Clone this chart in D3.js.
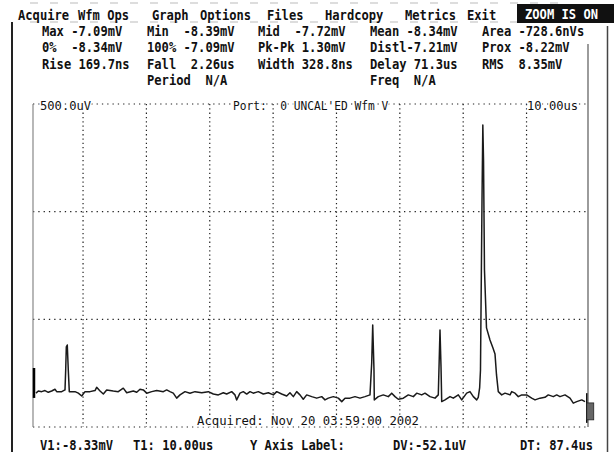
<!DOCTYPE html>
<html>
<head>
<meta charset="utf-8">
<script src="https://cdn.jsdelivr.net/npm/d3@7/dist/d3.min.js"></script>
<style>
html, body { margin: 0; padding: 0; background: #fff; }
svg { display: block; }
text { font-family: "DejaVu Sans Mono", monospace; fill: #111; white-space: pre; }
</style>
</head>
<body>
<svg id="scope" width="614" height="452"></svg>
<script>
// menu bar
const menuItems = ["Acquire", "Wfm Ops", "Graph", "Options", "Files", "Hardcopy", "Metrics", "Exit"]
const zoomFlag = "ZOOM IS ON"

// measurement readouts, one row per line, "" = empty cell
const readoutRows = [
	["Max -7.09mV", "Min  -8.39mV", "Mid  -7.72mV", "Mean -8.34mV", "Area -728.6nVs"],
	["0%  -8.34mV", "100% -7.09mV", "Pk-Pk 1.30mV", "Distl-7.21mV", "Prox -8.22mV"],
	["Rise 169.7ns", "Fall  2.26us", "Width 328.8ns", "Delay 71.3us", "RMS  8.35mV"],
	["", "Period  N/A", "", "Freq  N/A", ""]
]

const voltsPerDiv = "500.0uV"
const portLabel = "Port:  0 UNCAL'ED Wfm V"
const timePerDiv = "10.00us"
const acquiredLabel = "Acquired: Nov 20 03:59:00 2002"
const cursorLabels = ["V1:-8.33mV", "T1: 10.00us", "Y Axis Label:", "DV:-52.1uV", "DT: 87.4us"]

// screen window: time (us) and level (mV)
const timeWindow = [0, 87.6]
const levelWindow = [-8.482, -6.993]
const gridStartUs = 7.9
const usPerDiv = 10

// cursors at the two ends of the window
const cursorTimes = [0, 87.4]

// trace: [time us, level mV]
const trace = [
	[0.47,-8.326],[0.84,-8.316],[1.37,-8.319],[1.89,-8.314],[2.41,-8.322],[2.95,-8.316],[3.47,-8.308],[3.74,-8.319],
	[4.53,-8.319],[5.05,-8.311],[5.16,-8.219],[5.26,-8.112],[5.41,-8.104],[5.57,-8.219],[5.73,-8.319],[6.63,-8.319],
	[7.15,-8.326],[7.69,-8.339],[8.21,-8.319],[9.00,-8.319],[9.79,-8.314],[10.05,-8.299],[10.58,-8.316],[11.10,-8.330],
	[11.63,-8.311],[12.67,-8.316],[13.46,-8.319],[14.25,-8.303],[14.79,-8.324],[15.83,-8.316],[16.37,-8.322],[16.89,-8.308],
	[17.41,-8.311],[17.95,-8.326],[18.74,-8.319],[19.52,-8.314],[20.57,-8.319],[21.10,-8.311],[21.62,-8.319],[22.14,-8.326],
	[22.68,-8.349],[23.20,-8.334],[23.99,-8.319],[24.78,-8.326],[25.57,-8.319],[26.63,-8.324],[27.67,-8.319],[28.46,-8.330],
	[29.25,-8.334],[30.04,-8.324],[30.57,-8.330],[31.36,-8.319],[31.88,-8.334],[32.15,-8.357],[32.67,-8.326],[33.19,-8.319],
	[33.73,-8.330],[34.25,-8.319],[34.77,-8.326],[35.56,-8.319],[36.35,-8.330],[37.14,-8.324],[37.93,-8.334],[38.47,-8.319],
	[39.25,-8.330],[40.04,-8.339],[40.56,-8.324],[41.09,-8.342],[41.62,-8.319],[42.14,-8.334],[42.66,-8.354],[43.20,-8.334],
	[43.99,-8.342],[44.78,-8.349],[45.57,-8.342],[46.09,-8.357],[46.61,-8.349],[47.40,-8.342],[48.19,-8.349],[48.73,-8.365],
	[49.25,-8.349],[50.03,-8.349],[50.82,-8.342],[51.61,-8.349],[52.40,-8.342],[53.19,-8.334],[53.46,-8.187],[53.62,-8.012],
	[53.82,-8.219],[53.87,-8.357],[54.50,-8.342],[55.29,-8.334],[56.08,-8.342],[56.62,-8.326],[57.14,-8.342],[57.66,-8.354],
	[58.45,-8.349],[59.24,-8.334],[60.03,-8.342],[60.56,-8.326],[61.35,-8.334],[61.87,-8.326],[62.66,-8.342],[63.45,-8.349],
	[63.97,-8.334],[64.24,-8.035],[64.40,-8.204],[64.51,-8.365],[65.03,-8.357],[65.82,-8.342],[66.34,-8.349],[67.13,-8.334],
	[67.67,-8.357],[68.45,-8.326],[68.97,-8.319],[69.50,-8.342],[70.03,-8.357],[70.28,-8.345],[70.50,-8.300],[70.63,-8.219],
	[70.87,-7.436],[71.00,-7.090],[71.11,-7.251],[71.26,-7.758],[71.58,-8.025],[72.13,-8.081],[72.60,-8.118],[72.92,-8.145],
	[73.16,-8.242],[73.44,-8.319],[73.98,-8.334],[74.50,-8.326],[75.29,-8.334],[75.56,-8.319],[76.08,-8.326],[76.60,-8.342],
	[77.14,-8.334],[77.92,-8.334],[78.71,-8.349],[79.24,-8.357],[80.02,-8.349],[80.81,-8.345],[81.33,-8.334],[82.12,-8.342],
	[82.66,-8.334],[83.18,-8.342],[83.97,-8.334],[84.76,-8.349],[85.28,-8.372],[85.82,-8.365],[86.61,-8.357],[87.13,-8.365]
]

const svg = d3.select("#scope")

const x = d3.scaleLinear().domain(timeWindow).range([33, 588])
const y = d3.scaleLinear().domain(levelWindow).range([427, 104])

// the screen font is a fixed 7.3px cell, a bit taller than DejaVu at that width
const CELL = 7.3
function fixedText (sel, size, cell) {
	sel.attr("font-size", size || 13.4)
		.attr("textLength", (d) => d.length * (cell || CELL))
		.attr("lengthAdjust", "spacingAndGlyphs")
		.text((d) => d)
}

// scan streaks along the top
svg.selectAll("line.streak")
	.data([3, 22])
	.enter().append("line")
	.attr("class", "streak")
	.attr("x1", 30).attr("x2", 560)
	.attr("y1", (d) => d).attr("y2", (d) => d)
	.attr("stroke", "#bbb").attr("stroke-dasharray", "8,12")

// outer frame
svg.append("line").attr("x1", 12).attr("x2", 12).attr("y1", 22).attr("y2", 452)
	.attr("stroke", "#222").attr("stroke-width", 2)
svg.append("line").attr("x1", 607.5).attr("x2", 607.5).attr("y1", 26).attr("y2", 452)
	.attr("stroke", "#444").attr("stroke-width", 1.5)

// menu bar
const menuX = [18, 78, 152, 200, 267, 325, 405, 467]
svg.selectAll("text.menu")
	.data(menuItems)
	.enter().append("text")
	.attr("class", "menu")
	.attr("x", (d, i) => menuX[i])
	.attr("y", 19.5)
	.attr("font-weight", "bold")
	.call(fixedText)

svg.append("rect").attr("x", 517).attr("y", 4).attr("width", 97).attr("height", 19).attr("fill", "#111")
svg.append("text").datum(zoomFlag)
	.attr("x", 525).attr("y", 19)
	.attr("font-weight", "bold")
	.style("fill", "#fff")
	.call(fixedText)

// readouts
const colX = [42, 147, 258, 370, 482]
readoutRows.forEach(function (row, r) {
	svg.selectAll("text.row" + r)
		.data(row)
		.enter().append("text")
		.attr("class", "row" + r)
		.attr("x", (d, i) => colX[i])
		.attr("y", 36 + r * 16.3)
		.attr("font-weight", "bold")
		.call(fixedText)
})

// plot area
const plot = svg.append("g")
const x0 = x(timeWindow[0]), x1 = x(timeWindow[1])
const yTop = y(levelWindow[1]), yBot = y(levelWindow[0])

// dotted grid (top & bottom edges are dotted too)
const hLevels = d3.range(0, 4).map((k) => levelWindow[1] + k * (levelWindow[0] - levelWindow[1]) / 3)
plot.selectAll("line.hgrid")
	.data(hLevels)
	.enter().append("line")
	.attr("class", "hgrid")
	.attr("x1", x0).attr("x2", x1)
	.attr("y1", (d) => y(d)).attr("y2", (d) => y(d))
	.attr("stroke", "#222").attr("stroke-width", 1.2)
	.attr("stroke-dasharray", "1.3,4")

const vTimes = d3.range(gridStartUs, timeWindow[1], usPerDiv)
plot.selectAll("line.vgrid")
	.data(vTimes)
	.enter().append("line")
	.attr("class", "vgrid")
	.attr("x1", (d) => x(d)).attr("x2", (d) => x(d))
	.attr("y1", yTop).attr("y2", yBot)
	.attr("stroke", "#222").attr("stroke-width", 1.2)
	.attr("stroke-dasharray", "1.3,3")

// solid side edges
plot.append("line").attr("x1", x0).attr("x2", x0).attr("y1", yTop).attr("y2", yBot)
	.attr("stroke", "#888").attr("stroke-width", 1.2)
plot.append("line").attr("x1", x1).attr("x2", x1).attr("y1", 44).attr("y2", yBot)
	.attr("stroke", "#666").attr("stroke-width", 1.3)

// waveform
const line = d3.line()
	.x((d) => x(d[0]))
	.y((d) => y(d[1]))
plot.append("path")
	.datum(trace)
	.attr("d", line)
	.attr("fill", "none")
	.attr("stroke", "#1a1a1a")
	.attr("stroke-width", 1.5)
	.attr("stroke-linejoin", "round")

// cursor markers
plot.append("line")
	.attr("x1", x(cursorTimes[0]) + 1).attr("x2", x(cursorTimes[0]) + 1)
	.attr("y1", y(-8.210)).attr("y2", y(-8.348))
	.attr("stroke", "#000").attr("stroke-width", 2.5)
plot.append("line")
	.attr("x1", x(cursorTimes[1])).attr("x2", x(cursorTimes[1]))
	.attr("y1", y(-8.326)).attr("y2", y(-8.463))
	.attr("stroke", "#111").attr("stroke-width", 1.5)
plot.append("rect")
	.attr("x", x(cursorTimes[1])).attr("y", y(-8.371))
	.attr("width", 7).attr("height", y(-8.449) - y(-8.371))
	.attr("fill", "#666").attr("stroke", "#222").attr("stroke-width", 0.8)

// labels sitting on the grid edges (plain weight, white halo cuts the dots)
function edgeLabel (tx, ty, s, cell) {
	plot.append("text").datum(s)
		.attr("x", tx).attr("y", ty)
		.attr("stroke", "#fff").attr("stroke-width", 3)
		.attr("paint-order", "stroke")
		.call(fixedText, 13, cell)
}
edgeLabel(40, yTop + 5.5, voltsPerDiv)
edgeLabel(233, yTop + 5.5, portLabel, 6.75)
edgeLabel(527, yTop + 5.5, timePerDiv)
edgeLabel(197, yBot - 2, acquiredLabel, 7.4)

// cursor readout line
const cursorX = [40, 133, 250, 393, 520]
svg.selectAll("text.cursor")
	.data(cursorLabels)
	.enter().append("text")
	.attr("class", "cursor")
	.attr("x", (d, i) => cursorX[i])
	.attr("y", 450)
	.attr("font-weight", "bold")
	.call(fixedText)
</script>
</body>
</html>
